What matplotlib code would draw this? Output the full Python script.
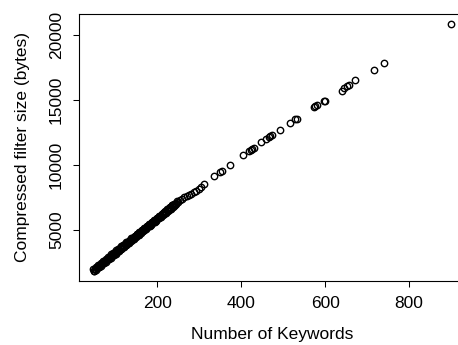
import matplotlib
matplotlib.use("Agg")
import matplotlib.pyplot as plt

# number of keywords per filter vs compressed filter size (bytes)
keywords_dense = [47, 49, 51, 53, 55, 57, 59, 61, 63, 65, 67, 69, 71, 73, 75, 77,
                  79, 81, 83, 85, 87, 89, 91, 93, 95, 97, 99, 101, 103, 105, 107,
                  109, 111, 113, 115, 117, 119, 121, 123, 125, 127, 129, 131, 133,
                  135, 137, 139, 141, 143, 145, 147, 149, 151, 153, 155, 157, 159,
                  161, 163, 165, 167, 169, 171, 173, 175, 177, 179, 181, 183, 185,
                  187, 189, 191, 193, 195, 197, 199, 201, 203, 205, 207, 209, 211,
                  213, 215, 217, 219, 221, 223, 225, 227, 229, 231, 233, 235, 237,
                  239, 241, 243, 245, 247, 249]
size_dense = [1980, 1872, 2015, 1927, 2160, 2122, 2294, 2187, 2329, 2242, 2474,
              2436, 2609, 2501, 2644, 2556, 2788, 2751, 2923, 2816, 2958, 2870,
              3103, 3065, 3238, 3130, 3272, 3185, 3417, 3380, 3552, 3444, 3587,
              3499, 3732, 3694, 3866, 3759, 3901, 3814, 4046, 4008, 4181, 4073,
              4216, 4128, 4360, 4323, 4495, 4388, 4530, 4442, 4675, 4637, 4810,
              4702, 4844, 4757, 4989, 4952, 5124, 5016, 5159, 5071, 5304, 5266,
              5438, 5331, 5473, 5386, 5618, 5580, 5753, 5645, 5788, 5700, 5932,
              5895, 6067, 5960, 6102, 6014, 6247, 6209, 6382, 6274, 6416, 6329,
              6561, 6524, 6696, 6588, 6731, 6643, 6876, 6838, 7010, 6903, 7045,
              6958, 7190, 7152]

# second batch of filters in the same keyword range
keywords_dense2 = [48, 50, 52, 54, 56, 58, 60, 62, 64, 66, 68, 70, 72, 74, 76, 78,
                   80, 82, 84, 86, 88, 90, 92, 94, 96, 98, 100, 102, 104, 106, 108,
                   110, 112, 114, 116, 118, 120, 122, 124, 126, 128, 130, 132, 134,
                   136, 138, 140, 142, 144, 146, 148, 150, 152, 154, 156, 158, 160,
                   162, 164, 166, 168, 170, 172, 174, 176, 178, 180, 182, 184, 186,
                   188, 190, 192, 194, 196, 198, 200, 202, 204, 206, 208, 210, 212,
                   214, 216, 218, 220, 222, 224, 226, 228, 230, 232, 234, 236, 238,
                   240]
size_dense2 = [1840, 2008, 1991, 2173, 2066, 2178, 2130, 2323, 2305, 2488, 2380,
               2492, 2445, 2637, 2620, 2802, 2694, 2807, 2759, 2952, 2934, 3116,
               3009, 3121, 3074, 3266, 3248, 3431, 3323, 3436, 3388, 3580, 3563,
               3745, 3638, 3750, 3702, 3895, 3877, 4060, 3952, 4064, 4017, 4209,
               4192, 4374, 4266, 4379, 4331, 4524, 4506, 4688, 4581, 4693, 4646,
               4838, 4820, 5003, 4895, 5008, 4960, 5152, 5135, 5317, 5210, 5322,
               5274, 5467, 5449, 5632, 5524, 5636, 5589, 5781, 5764, 5946, 5838,
               5951, 5903, 6096, 6078, 6260, 6153, 6265, 6218, 6410, 6392, 6575,
               6467, 6580, 6532, 6724, 6707, 6889, 6782, 6894, 6846]

keywords_sparse = [253, 258, 264, 270, 276, 281, 287, 292, 299, 304, 311, 334,
                   349, 354, 372, 403, 417, 422, 426, 430, 447, 459, 466, 469,
                   474, 491, 515, 528, 532, 572, 576, 580, 597, 600, 640, 645,
                   652, 656, 671, 717, 741, 899]
size_sparse = [7260, 7370, 7490, 7600, 7700, 7790, 7890, 7980, 8110, 8300, 8500,
               9170, 9450, 9520, 9970, 10770, 11030, 11110, 11210, 11280, 11730,
               11970, 12150, 12230, 12320, 12670, 13200, 13480, 13530, 14450,
               14500, 14560, 14880, 14930, 15700, 15890, 16050, 16140, 16470,
               17290, 17800, 20815]

xticks = [200, 400, 600, 800]
yticks = [5000, 10000, 15000, 20000]

plt.rcParams['font.family'] = ['Liberation Sans', 'DejaVu Sans']

fig = plt.figure(figsize=(4.58, 3.45), dpi=100)
ax = fig.add_axes([79 / 458, 64 / 345, 386 / 458, 267 / 345])

x = keywords_dense + keywords_dense2 + keywords_sparse
y = size_dense + size_dense2 + size_sparse
ax.plot(x, y, 'o', markersize=4.6, markerfacecolor='none',
        markeredgecolor='black', markeredgewidth=1.0)

ax.margins(0.04)
ax.set_xticks(xticks)
ax.set_yticks(yticks)
ax.tick_params(direction='out', length=4.3, width=0.75, pad=6.5,
               labelsize=12.5, color='black')
plt.setp(ax.get_yticklabels(), rotation=90, va='center')
for s in ax.spines.values():
    s.set_linewidth(0.8)

ax.set_xlabel('Number of Keywords', fontsize=12.5)
ax.set_ylabel('Compressed filter size (bytes)', fontsize=12.5)
ax.xaxis.set_label_coords(0.5, -54 / 267)
ax.xaxis.label.set_va('center')
ax.yaxis.set_label_coords(-56 / 386, 0.5)
ax.yaxis.label.set_va('center')

fig.savefig('out.png', dpi=100)
